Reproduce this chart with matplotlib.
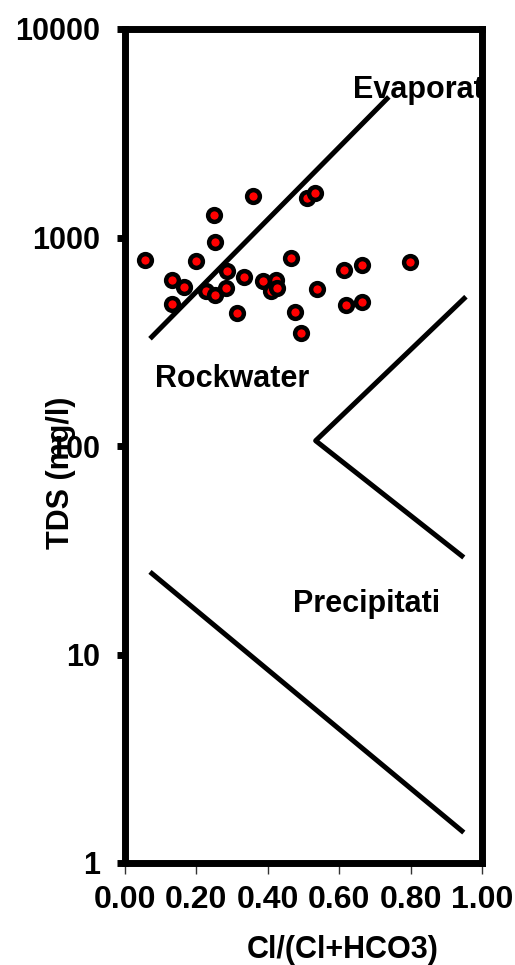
import matplotlib
matplotlib.use("Agg")
import matplotlib.pyplot as plt
import numpy as np

# ---- data ----
ratio = [0.056, 0.131, 0.166, 0.131, 0.199, 0.250, 0.253, 0.359, 0.287, 0.228,
         0.253, 0.283, 0.314, 0.333, 0.386, 0.424, 0.409, 0.426, 0.464, 0.476,
         0.494, 0.510, 0.532, 0.538, 0.613, 0.618, 0.663, 0.663, 0.799]
tds = [782, 625, 581, 480, 768, 1285, 954, 1573, 688, 556,
       532, 570, 435, 649, 621, 625, 556, 570, 797, 441,
       347, 1545, 1626, 568, 698, 476, 740, 489, 760]

# Gibbs boundary lines
evap_x = [0.070, 0.739]
evap_y = [327, 4725]
upper_x = [0.955, 0.534, 0.949]
upper_y = [520, 106, 29.2]
lower_x = [0.070, 0.949]
lower_y = [24.9, 1.40]

xticks = [0.0, 0.2, 0.4, 0.6, 0.8, 1.0]
xticklabels = ["0.00", "0.20", "0.40", "0.60", "0.80", "1.00"]
yticks = [1, 10, 100, 1000, 10000]
yticklabels = ["1", "10", "100", "1000", "10000"]

plt.rcParams['font.family'] = ['Liberation Sans', 'DejaVu Sans']
plt.rcParams['font.weight'] = 'bold'

fig = plt.figure(figsize=(5.15, 9.65), dpi=100)
ax = fig.add_axes([125/515, 1 - 863/965, (482-125)/515, (863-29)/965])

ax.set_yscale('log')
ax.set_xlim(0, 1.0)
ax.set_ylim(1, 10000)

lw = 3.6
ax.plot(evap_x, evap_y, color='black', lw=lw, solid_capstyle='butt')
ax.plot(upper_x, upper_y, color='black', lw=lw, solid_capstyle='butt')
ax.plot(lower_x, lower_y, color='black', lw=lw, solid_capstyle='butt')

ax.plot(ratio, tds, linestyle='none', marker='o', markersize=9.2,
        markerfacecolor='red', markeredgecolor='black', markeredgewidth=3.2,
        zorder=5)

fs = 22
ax.text(0.639, 4670, "Evaporation", fontsize=fs, fontweight='bold',
        ha='left', va='baseline', clip_on=True)
ax.text(0.084, 192, "Rockwater", fontsize=fs, fontweight='bold',
        ha='left', va='baseline')
ax.text(0.471, 16.0, "Precipitati", fontsize=fs, fontweight='bold',
        ha='left', va='baseline')

for s in ax.spines.values():
    s.set_linewidth(5)
    s.set_color('black')

ax.set_xticks(xticks)
ax.set_xticklabels(xticklabels)
ax.set_yticks(yticks)
ax.set_yticklabels(yticklabels)
ax.yaxis.set_minor_locator(matplotlib.ticker.NullLocator())
ax.tick_params(axis='y', which='major', direction='out', length=6, width=5,
               pad=12, labelsize=22)
ax.tick_params(axis='x', which='major', direction='out', length=8, width=1,
               pad=8, labelsize=23, color='#333333')

ax.text(-0.179, 0.468, "TDS (mg/l)", transform=ax.transAxes, rotation=90,
        ha='center', va='center', fontsize=22, fontweight='bold')
ax.text(0.61, -0.114, "Cl/(Cl+HCO3)", transform=ax.transAxes,
        ha='center', va='baseline', fontsize=22, fontweight='bold')

fig.savefig("out.png", dpi=100)
